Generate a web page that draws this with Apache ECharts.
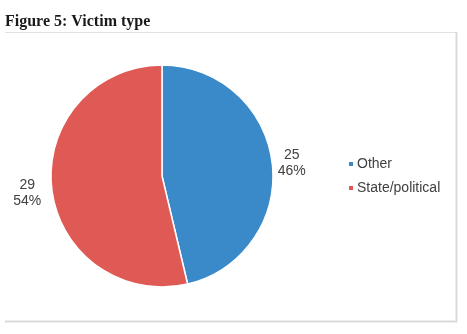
<!DOCTYPE html>
<html>
<head>
<meta charset="utf-8">
<script src="https://cdn.jsdelivr.net/npm/echarts@6/dist/echarts.min.js"></script>
<style>
  html, body { margin: 0; padding: 0; background: #fff; }
  #chart { width: 467px; height: 334px; }
</style>
</head>
<body>
<div id="chart"></div>
<script>
// victim type breakdown
var categories = ['Other', 'State/political'];
var counts = [25, 29];
var colors = ['#3a89c9', '#e05a55'];

// per-slice label nudges (distance from the rim)
var lineLen = [[0, 1], [3, 3]];
var labelPad = [[0, 0, 0, 0], [8, 0, 0, 0]];

var pieData = categories.map(function (name, i) {
  return {
    name: name,
    value: counts[i],
    itemStyle: { color: colors[i] },
    label: { padding: labelPad[i] },
    labelLine: { length: lineLen[i][0], length2: lineLen[i][1] }
  };
});

var chart = echarts.init(document.getElementById('chart'));
var option = {
  animation: false,
  title: {
    text: 'Figure 5: Victim type',
    left: 0,
    top: 9,
    textStyle: {
      fontFamily: 'Liberation Serif, serif',
      fontWeight: 'bold',
      fontSize: 16,
      color: '#1a1a1a'
    }
  },
  legend: {
    orient: 'vertical',
    left: 342,
    top: 152,
    itemWidth: 6,
    itemHeight: 6,
    itemGap: 10,
    icon: 'rect',
    textStyle: { fontFamily: 'Arial, Liberation Sans, sans-serif', fontSize: 14, color: '#404040', padding: [0, 0, 0, -2] },
    data: categories
  },
  graphic: [
    { type: 'line', shape: { x1: 5, y1: 32.5, x2: 456, y2: 32.5 }, style: { stroke: '#e2e2e2', lineWidth: 1 } },
    { type: 'line', shape: { x1: 456.5, y1: 32, x2: 456.5, y2: 322 }, style: { stroke: '#dadada', lineWidth: 2 } },
    { type: 'line', shape: { x1: 5, y1: 321.5, x2: 457, y2: 321.5 }, style: { stroke: '#dadada', lineWidth: 2 } }
  ],
  series: [{
    type: 'pie',
    center: [162, 176],
    radius: 111,
    startAngle: 90,
    clockwise: true,
    itemStyle: { borderColor: '#fff', borderWidth: 1.5 },
    label: {
      show: true,
      position: 'outside',
      overflow: 'none',
      formatter: function (p) {
        return '{a|' + p.value + '}\n{a|' + Math.round(p.percent) + '%}';
      },
      rich: {
        a: {
          width: 27,
          align: 'center',
          fontFamily: 'Arial, Liberation Sans, sans-serif',
          fontSize: 14,
          lineHeight: 16,
          color: '#404040'
        }
      }
    },
    labelLine: { show: false, length: 6, length2: 4 },
    emphasis: { disabled: true },
    data: pieData
  }]
};
chart.setOption(option);
</script>
</body>
</html>
